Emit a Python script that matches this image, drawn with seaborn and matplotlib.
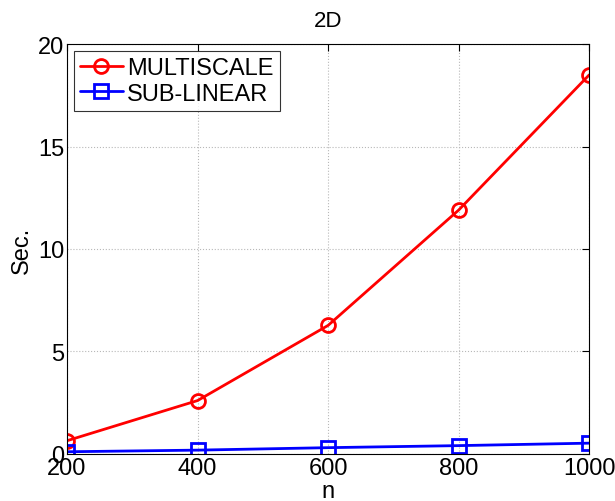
import matplotlib
matplotlib.use("Agg")
import matplotlib.pyplot as plt
import seaborn as sns
import pandas as pd

n = [200, 400, 600, 800, 1000]
multiscale = [0.64, 2.6, 6.27, 11.9, 18.5]
sublinear = [0.1, 0.18, 0.3, 0.4, 0.52]

sns.set_style("white")
plt.rcParams['font.family'] = ['Liberation Sans', 'DejaVu Sans']
plt.rcParams['text.color'] = 'black'
plt.rcParams['axes.labelcolor'] = 'black'
plt.rcParams['xtick.color'] = 'black'
plt.rcParams['ytick.color'] = 'black'

df = pd.DataFrame({
    'n': n * 2,
    'sec': multiscale + sublinear,
    'method': ['MULTISCALE'] * 5 + ['SUB-LINEAR'] * 5,
})

fig = plt.figure(figsize=(6.15, 5.02), dpi=100)
ax = fig.add_axes([0.109, 0.094, 0.849, 0.816])

sns.lineplot(data=df, x='n', y='sec', hue='method', style='method',
             palette={'MULTISCALE': 'red', 'SUB-LINEAR': 'blue'},
             markers={'MULTISCALE': 'o', 'SUB-LINEAR': 's'},
             dashes=False, linewidth=2, markersize=10,
             markerfacecolor='none', markeredgewidth=2, ax=ax)
for line in ax.lines:
    line.set_markerfacecolor('none')
    line.set_markeredgecolor(line.get_color())

ax.set_xlim(200, 1000)
ax.set_ylim(0, 20)
ax.set_xticks([200, 400, 600, 800, 1000])
ax.set_yticks([0, 5, 10, 15, 20])
ax.tick_params(direction='in', top=True, right=True, labelsize=17, length=5,
               width=0.8, pad=2)
ax.grid(True, linestyle=':', color='#b8b8b8', linewidth=0.8)
for s in ax.spines.values():
    s.set_color('black')
    s.set_linewidth(0.8)

ax.set_title('2D', fontsize=16, pad=13)
ax.set_xlabel('n', fontsize=17, labelpad=1)
ax.set_ylabel('Sec.', fontsize=17, labelpad=4)

leg = ax.legend(loc='upper left', fontsize=17, frameon=True, fancybox=False,
                edgecolor='black', borderaxespad=0.3, handlelength=1.8,
                handletextpad=0.2, borderpad=0.25, labelspacing=0.15)
leg.get_frame().set_linewidth(0.8)
for h in leg.get_lines():
    h.set_markerfacecolor('none')

fig.savefig('out.png', dpi=100)
